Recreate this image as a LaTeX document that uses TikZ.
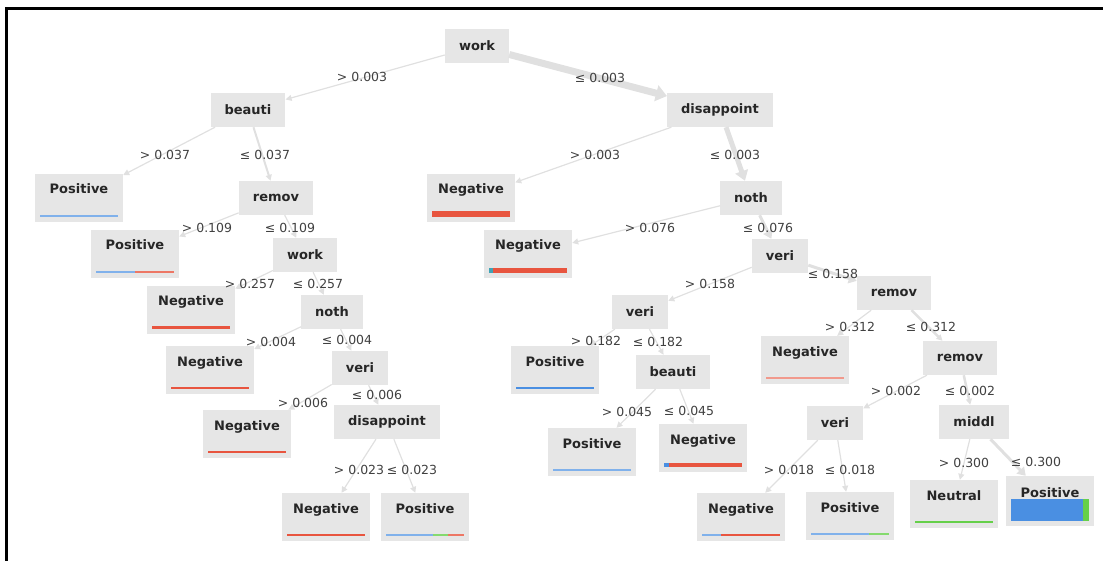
\documentclass[tikz,border=0pt]{standalone}
\usepackage{fontspec}
\setmainfont{DejaVu Sans}
\usepackage{xcolor}
\usetikzlibrary{arrows.meta}

\definecolor{boxgray}{HTML}{E6E6E6}
\definecolor{edgegray}{HTML}{E0E0E0}
\definecolor{clsblue}{HTML}{4A8FE2}
\definecolor{clsred}{HTML}{E8553F}
\definecolor{clsgreen}{HTML}{66D04A}
\definecolor{clsteal}{HTML}{3FA3B5}

% class distribution bar at the foot of a leaf: node, thickness, colour/from/to
\newcommand{\classbar}[3]{%
  \foreach \col/\from/\upto in {#3}
    \fill[\col] ([shift={(5+78*\from,-5)}]#1.south west) rectangle ([shift={(5+78*\upto,-5-#2)}]#1.south west);}

\begin{document}
\begin{tikzpicture}[
  x=1pt, y=-1pt,
  split/.style={fill=boxgray, text=black!85, font=\bfseries\fontsize{13}{15}\selectfont,
    minimum height=34, inner xsep=14},
  leaf/.style={fill=boxgray, text=black!85, font=\bfseries\fontsize{13}{15}\selectfont,
    minimum width=88, inner ysep=5, text height=15, text depth=23},
  cond/.style={text=black!75, font=\fontsize{12.5}{14}\selectfont, inner sep=1},
  every edge/.style={draw=edgegray, line width=1.2, -{Triangle[length=6pt,width=6pt]}},
  wide/.style={line width=3, -{Triangle[length=8pt,width=10pt]}},
  wider/.style={line width=5, -{Triangle[length=10pt,width=13pt]}},
  widest/.style={line width=7, -{Triangle[length=11pt,width=16pt]}}
]
\useasboundingbox (0,0) rectangle (1103,561);
\draw[line width=2.2] (6.5,561) -- (6.5,8.5) -- (1103,8.5);

% splits
\node[split] (work) at (477,46) {work};
\node[split] (beauti) at (248,110) {beauti};
\node[split] (disap) at (720,110) {disappoint};
\node[split] (remov) at (276,198) {remov};
\node[split] (noth) at (751,198) {noth};
\node[split] (work2) at (305,255) {work};
\node[split] (veri) at (780,256) {veri};
\node[split] (noth2) at (332,312) {noth};
\node[split] (remov2) at (894,293) {remov};
\node[split] (veri2) at (640,312) {veri};
\node[split] (veri3) at (360,368) {veri};
\node[split] (beauti2) at (673,372) {beauti};
\node[split] (remov3) at (960,358) {remov};
\node[split] (disap2) at (387,422) {disappoint};
\node[split] (veri4) at (835,423) {veri};
\node[split] (middl) at (974,422) {middl};

% leaves
\node[leaf] (pos1) at (79,198) {Positive};
\node[leaf] (neg8) at (471,198) {Negative};
\node[leaf] (pos2) at (135,254) {Positive};
\node[leaf] (neg9) at (528,254) {Negative};
\node[leaf] (neg3) at (191,310) {Negative};
\node[leaf] (neg4) at (210,370) {Negative};
\node[leaf] (pos10) at (555,370) {Positive};
\node[leaf] (neg13) at (805,360) {Negative};
\node[leaf] (neg5) at (247,434) {Negative};
\node[leaf] (pos11) at (592,452) {Positive};
\node[leaf] (neg12) at (703,448) {Negative};
\node[leaf] (neg6) at (326,517) {Negative};
\node[leaf] (pos7) at (425,517) {Positive};
\node[leaf] (neg14) at (741,517) {Negative};
\node[leaf] (pos15) at (850,516) {Positive};
\node[leaf] (neut16) at (954,504) {Neutral};
\node[leaf, inner ysep=6] (pos17) at (1050,501) {Positive};

\path
  (work) edge (beauti)
  (work) edge[widest] (disap)
  (beauti) edge (pos1)
  (beauti) edge[line width=2] (remov)
  (disap) edge (neg8)
  (disap) edge[wider] (noth)
  (remov) edge (pos2)
  (remov) edge (work2)
  (noth) edge (neg9)
  (noth) edge[wide] (veri)
  (work2) edge (neg3)
  (work2) edge (noth2)
  (veri) edge (veri2)
  (veri) edge[wide] (remov2)
  (noth2) edge (neg4)
  (noth2) edge (veri3)
  (veri2) edge (pos10)
  (veri2) edge (beauti2)
  (remov2) edge (neg13)
  (remov2) edge[line width=2.5] (remov3)
  (veri3) edge (neg5)
  (veri3) edge (disap2)
  (beauti2) edge (pos11)
  (beauti2) edge (neg12)
  (remov3) edge (veri4)
  (remov3) edge[line width=2.5] (middl)
  (disap2) edge (neg6)
  (disap2) edge (pos7)
  (veri4) edge (neg14)
  (veri4) edge (pos15)
  (middl) edge (neut16)
  (middl) edge[wide] (pos17);

% thresholds
\node[cond] (c1) at (362,77) {> 0.003};
\node[cond] (c2) at (600,78) {≤ 0.003};
\node[cond] (c3) at (165,155) {> 0.037};
\node[cond] (c4) at (265,155) {≤ 0.037};
\node[cond] (c5) at (595,155) {> 0.003};
\node[cond] (c6) at (735,155) {≤ 0.003};
\node[cond] (c7) at (207,228) {> 0.109};
\node[cond] (c8) at (290,228) {≤ 0.109};
\node[cond] (c9) at (650,228) {> 0.076};
\node[cond] (c10) at (768,228) {≤ 0.076};
\node[cond] (c11) at (250,284) {> 0.257};
\node[cond] (c12) at (318,284) {≤ 0.257};
\node[cond] (c13) at (710,284) {> 0.158};
\node[cond] (c14) at (833,274) {≤ 0.158};
\node[cond] (c15) at (271,342) {> 0.004};
\node[cond] (c16) at (347,340) {≤ 0.004};
\node[cond] (c17) at (850,327) {> 0.312};
\node[cond] (c18) at (931,327) {≤ 0.312};
\node[cond] (c19) at (596,341) {> 0.182};
\node[cond] (c20) at (658,342) {≤ 0.182};
\node[cond] (c21) at (303,403) {> 0.006};
\node[cond] (c22) at (377,395) {≤ 0.006};
\node[cond] (c23) at (896,391) {> 0.002};
\node[cond] (c24) at (970,391) {≤ 0.002};
\node[cond] (c25) at (627,412) {> 0.045};
\node[cond] (c26) at (689,411) {≤ 0.045};
\node[cond] (c27) at (359,470) {> 0.023};
\node[cond] (c28) at (412,470) {≤ 0.023};
\node[cond] (c29) at (789,470) {> 0.018};
\node[cond] (c30) at (850,470) {≤ 0.018};
\node[cond] (c31) at (964,463) {> 0.300};
\node[cond] (c32) at (1036,462) {≤ 0.300};

% class bars
\classbar{pos1}{2}{clsblue!70/0/1}
\classbar{neg8}{6}{clsred/0/1}
\classbar{pos2}{2}{clsblue!70/0/0.5, clsred!80/0.5/1}
\classbar{neg9}{5}{clsteal/0/0.06, clsred/0.06/1}
\classbar{neg3}{3.5}{clsred/0/1}
\classbar{neg4}{2.5}{clsred/0/1}
\classbar{pos10}{2}{clsblue/0/1}
\classbar{neg13}{2}{clsred!60/0/1}
\classbar{neg5}{2.5}{clsred/0/1}
\classbar{pos11}{2}{clsblue!70/0/1}
\classbar{neg12}{4}{clsblue/0/0.07, clsred/0.07/1}
\classbar{neg6}{2}{clsred/0/1}
\classbar{pos7}{2}{clsblue!70/0/0.6, clsgreen!80/0.6/0.8, clsred!80/0.8/1}
\classbar{neg14}{2}{clsblue!70/0/0.25, clsred/0.25/1}
\classbar{pos15}{2}{clsblue!70/0/0.75, clsgreen!80/0.75/1}
\classbar{neut16}{2}{clsgreen/0/1}
\classbar{pos17}{22}{clsblue/0/0.93, clsgreen/0.93/1}
\end{tikzpicture}
\end{document}
